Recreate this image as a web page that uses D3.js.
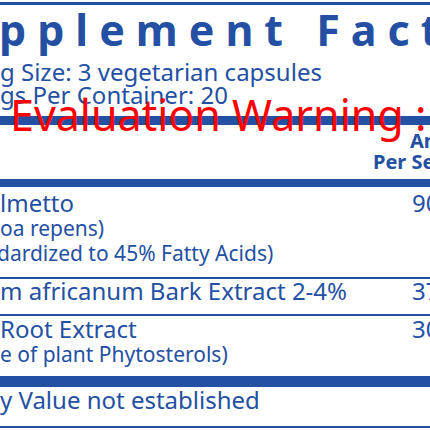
<!DOCTYPE html>
<html><head><meta charset="utf-8">
<script src="https://cdn.jsdelivr.net/npm/d3@7"></script>
<style>body{margin:0;background:#fff}svg{display:block}</style>
</head><body><div id="chart"></div>
<script>
const title = 'Supplement Facts';
const servingLines = ['Serving Size: 3 vegetarian capsules', 'Servings Per Container: 20'];
const ingredients = ['Saw Palmetto', 'Pygeum africanum Bark Extract 2-4%', 'Nettle Root Extract'];
const subLines = [['(Serenoa repens)', '(Standardized to 45% Fatty Acids)'], [], ['(Source of plant Phytosterols)']];
const amounts = ['900 mg', '375 mg', '300 mg'];
const footnote = '†Daily Value not established';

const W = 430, H = 430, blue = '#2350a3';
const svg = d3.select('#chart').append('svg').attr('width', W).attr('height', H)
  .style('font-family', '"Noto Sans", sans-serif');

// text placed so that the first `skip` chars fall off the left edge
function clipped(str, skip, y, size, weight, x0 = 0, ls = 0) {
  const t = svg.append('text').attr('y', y).attr('font-size', size)
    .attr('font-weight', weight || 400).attr('fill', blue)
    .attr('letter-spacing', ls).text(str);
  const off = skip ? t.node().getSubStringLength(0, skip) : 0;
  t.attr('x', x0 - off);
  return t;
}
const bar = (y, h) => svg.append('rect').attr('x', 0).attr('y', y).attr('width', W).attr('height', h).attr('fill', blue);

bar(2, 3);
clipped(title, 2, 46, 43, 700, -1, 11);
clipped(servingLines[0], 6, 81, 24, 400, 0);
clipped(servingLines[1], 6, 104, 24, 400, 0);
bar(116, 9);

svg.append('text').attr('x', 410).attr('y', 148).attr('font-size', 20).attr('font-weight', 700)
  .attr('fill', blue).text('Amount');
svg.append('text').attr('x', 373).attr('y', 169).attr('font-size', 20).attr('font-weight', 700)
  .attr('fill', blue).text('Per Serving');
bar(179, 8);

const rowY = [212, 300, 338];
const skips = [6, 5, 7];
const subSkips = [[6, 5], [], [6]];
const subX = [[0, -3], [], [0]];
ingredients.forEach((name, i) => {
  clipped(name, skips[i], rowY[i], 24, 400, 0);
  svg.append('text').attr('x', 412).attr('y', rowY[i]).attr('font-size', 24).attr('fill', blue).text(amounts[i]);
  subLines[i].forEach((s, j) => clipped(s, subSkips[i][j], rowY[i] + 24 + j * 25, 21, 400, subX[i][j]));
});
bar(277, 2);
bar(314, 2);
bar(376, 11);
clipped(footnote, 5, 409, 24, 400, 0);
bar(426, 2);

svg.append('text').attr('x', 10).attr('y', 131).attr('font-size', 43).attr('fill', '#ff0000')
  .text('Evaluation Warning : The document was created with Spire');
</script></body></html>
